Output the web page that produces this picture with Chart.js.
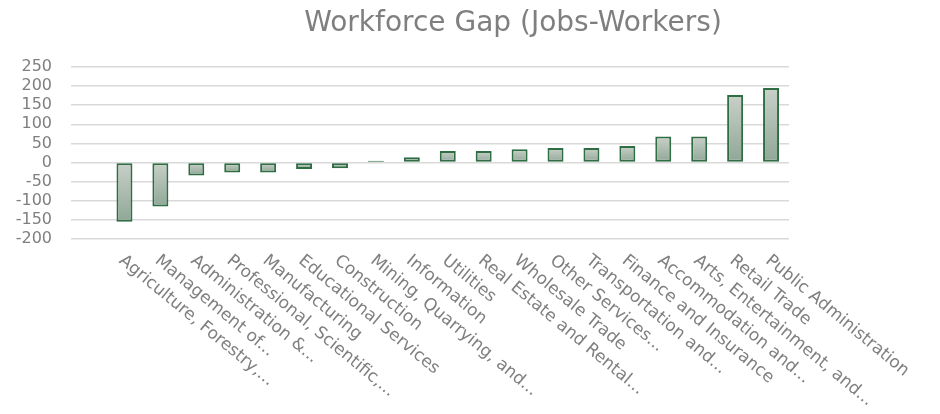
<!DOCTYPE html>
<html>
<head>
<meta charset="utf-8">
<script src="https://cdn.jsdelivr.net/npm/chart.js@4/dist/chart.umd.min.js"></script>
<style>
  html, body { margin: 0; padding: 0; background: #fff; }
  #wrap { width: 940px; height: 414px; }
</style>
</head>
<body>
<div id="wrap"><canvas id="gapChart" width="940" height="414"></canvas></div>
<script>
const chartTitle = 'Workforce Gap (Jobs-Workers)';

const industries = [
    'Agriculture, Forestry,...',
    'Management of...',
    'Administration &...',
    'Professional, Scientific,...',
    'Manufacturing',
    'Educational Services',
    'Construction',
    'Mining, Quarrying, and...',
    'Information',
    'Utilities',
    'Real Estate and Rental...',
    'Wholesale Trade',
    'Other Services...',
    'Transportation and...',
    'Finance and Insurance',
    'Accommodation and...',
    'Arts, Entertainment, and...',
    'Retail Trade',
    'Public Administration'
];

const workforceGap = [-155, -115, -34, -26, -26, -17, -15, 5, 14, 30, 30, 35, 38, 38, 43, 68, 68, 177, 195];

const yTicks = [-200, -150, -100, -50, 0, 50, 100, 150, 200, 250];

const textGray = '#7f7f7f';
const fontFace = '"DejaVu Sans", Verdana, sans-serif';

// vertical gradient per bar: light at the top edge, darker at the bottom edge
function barFill(context) {
    const chart = context.chart;
    const y = chart.scales.y;
    if (!y || context.type !== 'data') return '#b0beb3';
    const v = context.raw;
    const top = y.getPixelForValue(Math.max(v, 0));
    const bottom = y.getPixelForValue(Math.min(v, 0));
    if (!isFinite(top) || !isFinite(bottom) || top === bottom) return '#b0beb3';
    const g = chart.ctx.createLinearGradient(0, top, 0, bottom);
    g.addColorStop(0, '#c9d0c9');
    g.addColorStop(1, '#8fa796');
    return g;
}

// title and slanted category names
const labelPlugin = {
    id: 'labelPlugin',
    afterDraw(chart) {
        const ctx = chart.ctx;
        const x = chart.scales.x;
        ctx.save();
        ctx.fillStyle = textGray;
        ctx.font = '28px ' + fontFace;
        ctx.textAlign = 'center';
        ctx.textBaseline = 'middle';
        ctx.fillText(chartTitle, 513, 24);

        ctx.font = '17px ' + fontFace;
        ctx.textAlign = 'left';
        ctx.textBaseline = 'top';
        const angle = 39.5 * Math.PI / 180;
        industries.forEach((name, i) => {
            const px = x.getPixelForValue(i);
            ctx.save();
            ctx.translate(px + 2, chart.chartArea.bottom + 13);
            ctx.rotate(angle);
            ctx.fillText(name, 0, 0);
            ctx.restore();
        });
        ctx.restore();
    }
};

new Chart(document.getElementById('gapChart'), {
    type: 'bar',
    data: {
        labels: industries,
        datasets: [{
            data: workforceGap,
            backgroundColor: barFill,
            borderColor: '#2f6d45',
            borderWidth: 2,
            borderSkipped: false,
            barPercentage: 0.445,
            categoryPercentage: 1
        }]
    },
    options: {
        responsive: false,
        animation: false,
        layout: { padding: { left: 0, right: 151, top: 67, bottom: 175 } },
        plugins: {
            legend: { display: false },
            title: { display: false },
            tooltip: { enabled: false }
        },
        scales: {
            x: {
                display: false
            },
            y: {
                min: -200,
                max: 250,
                afterFit(scale) { scale.width = 106.5; },
                afterBuildTicks(scale) { scale.ticks = yTicks.map(v => ({ value: v })); },
                border: { display: false },
                // tick marks carry the gridlines out to the left of the first bar
                grid: { color: '#d9d9d9', lineWidth: 1.6, drawTicks: true, tickLength: 35.5 },
                ticks: {
                    autoSkip: false,
                    padding: 19,
                    color: textGray,
                    font: { family: fontFace, size: 16 }
                }
            }
        }
    },
    plugins: [labelPlugin]
});
</script>
</body>
</html>
